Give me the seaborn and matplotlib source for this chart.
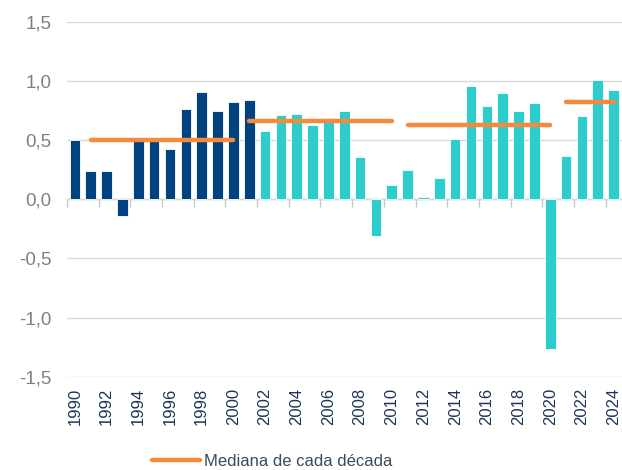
import numpy as np
import pandas as pd
import matplotlib
matplotlib.use('Agg')
import matplotlib.pyplot as plt
from matplotlib.lines import Line2D
import seaborn as sns

# datos
anios = list(range(1990, 2025))
valores = [0.50, 0.24, 0.235, -0.14, 0.49, 0.49, 0.42, 0.765, 0.91, 0.745, 0.82, 0.835,
           0.575, 0.71, 0.72, 0.625, 0.685, 0.745, 0.355, -0.31, 0.12, 0.25, 0.02, 0.175,
           0.51, 0.955, 0.79, 0.90, 0.745, 0.81, -1.265, 0.365, 0.70, 1.01, 0.92]
tramos = ['1990-2001'] * 12 + ['2002-2024'] * 23

decada_inicio = [1991, 2001, 2011, 2021]
decada_fin = [2000, 2010, 2020, 2024]
medianas = [0.50, 0.66, 0.63, 0.82]

etiquetas_y = ['-1,5', '-1,0', '-0,5', '0,0', '0,5', '1,0', '1,5']

azul = '#00427f'
turquesa = '#2ecdcd'
naranja = '#f58a3c'

df = pd.DataFrame({'anio': [str(a) for a in anios], 'valor': valores, 'tramo': tramos})

sns.set_style('white')
plt.rcParams['font.family'] = ['Liberation Sans', 'DejaVu Sans']

fig = plt.figure(figsize=(6.22, 4.70), dpi=100)
ax = fig.add_axes([67 / 622, (470 - 376.7) / 470, (621.5 - 67) / 622, 355 / 470])

sns.barplot(data=df, x='anio', y='valor', hue='tramo', palette={'1990-2001': azul, '2002-2024': turquesa},
            dodge=False, width=0.67, saturation=1, edgecolor='white', linewidth=0.6, legend=False,
            ax=ax, zorder=2)

for ini, fin, med in zip(decada_inicio, decada_fin, medianas):
    sns.lineplot(x=[ini - anios[0], fin - anios[0]], y=[med, med], color=naranja, lw=3.2,
                 solid_capstyle='round', ax=ax, zorder=4)

ax.set_xlim(-0.5, len(anios) - 0.5)
ax.set_ylim(-1.5, 1.5)
ax.set_yticks(np.arange(-1.5, 1.51, 0.5))
ax.set_yticklabels(etiquetas_y)
ax.set_xticks(range(0, len(anios), 2))
ax.set_xticklabels([str(a) for a in anios[::2]], rotation=90)
ax.set_xlabel('')
ax.set_ylabel('')

ax.yaxis.grid(True, color='#d9d9d9', lw=1, zorder=0)
ax.set_axisbelow(True)
for s in ax.spines.values():
    s.set_visible(False)

ax.tick_params(axis='y', length=0, pad=11, labelsize=13.5, labelcolor='#808080')
ax.tick_params(axis='x', length=0, pad=8, labelsize=12, labelcolor='#1f3458')

# eje de categorias sobre el cero
sec = ax.secondary_xaxis(0.5)
sec.set_alignment('bottom')
sec.set_xticks(np.arange(-0.5, len(anios) - 1, 2))
sec.tick_params(axis='x', length=6, width=1, color='#c8c8c8', labelbottom=False, labeltop=False)
sec.spines['bottom'].set_color('#c8c8c8')
sec.spines['bottom'].set_linewidth(1)
sec.spines['top'].set_visible(False)

fig.legend(handles=[Line2D([], [], color=naranja, lw=3.2)], labels=['Mediana de cada década'],
           loc='center', bbox_to_anchor=(272 / 622, 1 - 461 / 470), frameon=False,
           handlelength=2.9, handletextpad=0.25, labelcolor='#3a4a5c',
           prop={'family': ['Liberation Sans', 'DejaVu Sans'], 'size': 12})

fig.savefig('out.png', dpi=100)
